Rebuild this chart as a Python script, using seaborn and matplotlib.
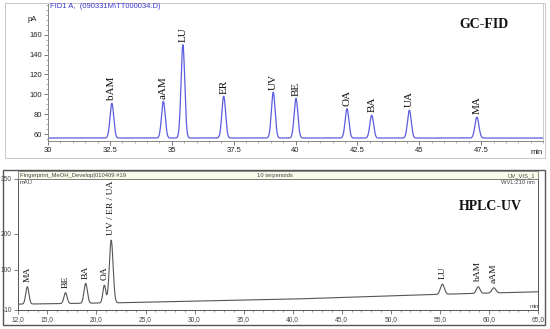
import numpy as np
import matplotlib
matplotlib.use("Agg")
import matplotlib.pyplot as plt
import seaborn as sns
from matplotlib.patches import Rectangle
from matplotlib.ticker import MultipleLocator

# GC-FID peaks (retention time in min, apex in pA)
gc_names = ["bAM", "aAM", "LU", "ER", "UV", "BE", "OA", "BA", "UA", "MA"]
gc_rt = [32.58, 34.66, 35.45, 37.10, 39.10, 40.02, 42.08, 43.08, 44.60, 47.33]
gc_apex = [91, 93, 150, 98, 102, 96, 85.5, 79, 84, 77]
gc_width = [0.075, 0.075, 0.075, 0.075, 0.075, 0.075, 0.075, 0.075, 0.075, 0.08]
gc_base = 56
gc_xticks = [30, 32.5, 35, 37.5, 40, 42.5, 45, 47.5]
gc_xlabels = ["30", "32.5", "35", "37.5", "40", "42.5", "45", "47.5"]
gc_yticks = [60, 80, 100, 120, 140, 160]

# HPLC-UV peaks (retention time in min, apex in mAU)
lc_names = ["MA", "BE", "BA", "OA", "UV / ER / UA", "LU", "bAM", "aAM"]
lc_rt = [12.95, 16.84, 18.90, 20.80, 21.50, 55.25, 58.90, 60.50]
lc_apex = [54, 37.5, 63, 58, 182, 61, 54, 51]
lc_width = [0.16, 0.16, 0.17, 0.15, 0.19, 0.2, 0.18, 0.2]
lc_base_t = [12, 22.5, 40, 55, 65]
lc_base_v = [6, 10, 20, 33, 40]
lc_xticks = [12, 15, 20, 25, 30, 35, 40, 45, 50, 55, 60, 65]
lc_xlabels = ["12,0", "15,0", "20,0", "25,0", "30,0", "35,0", "40,0",
              "45,0", "50,0", "55,0", "60,0", "65,0"]
lc_yticks = [-10, 100, 200, 350]

sns.set_style("white")
plt.rcParams["font.family"] = ["Liberation Sans", "DejaVu Sans"]
serif = "Liberation Serif"

fig = plt.figure(figsize=(5.5, 3.29), dpi=100)

# ---- top: GC-FID
t1 = np.linspace(30, 50, 4001)
y1 = np.full_like(t1, gc_base, dtype=float)
for rt, ap, w in zip(gc_rt, gc_apex, gc_width):
    y1 += (ap - gc_base) * np.exp(-0.5 * ((t1 - rt) / w) ** 2)

ax1 = fig.add_axes([48 / 550, 1 - 141 / 329, 495 / 550, 138 / 329])
sns.lineplot(x=t1, y=y1, ax=ax1, color="#5c5ce0", linewidth=0.9)
ax1.set_xlim(30, 50)
ax1.set_ylim(53, 192)
ax1.set_xticks(gc_xticks)
ax1.set_xticklabels(gc_xlabels)
ax1.set_yticks(gc_yticks)
ax1.xaxis.set_minor_locator(MultipleLocator(0.5))
ax1.yaxis.set_minor_locator(MultipleLocator(5))
ax1.tick_params(which="major", direction="out", length=3, width=0.6,
                labelsize=5.5, colors="#666", labelcolor="#222", pad=1.5,
                left=True, bottom=True)
ax1.tick_params(which="minor", direction="out", length=1.5, width=0.5,
                colors="#888", left=True, bottom=True)
for s in ["left", "bottom"]:
    ax1.spines[s].set_color("#888")
    ax1.spines[s].set_linewidth(0.7)
for s in ["top", "right"]:
    ax1.spines[s].set_color("#ccc")
    ax1.spines[s].set_linewidth(0.7)
ax1.set_xlabel("")
ax1.set_ylabel("")
for name, rt, ap in zip(gc_names, gc_rt, gc_apex):
    ax1.annotate(name, (rt, ap), xytext=(0, 2), textcoords="offset points",
                 rotation=90, ha="center", va="bottom", fontsize=8,
                 family=serif, color="#111")
ax1.text(-0.022, 175, "pA", transform=ax1.get_yaxis_transform(),
         ha="right", va="center", fontsize=5.5, color="#222")

fig.text(50 / 550, 1 - 6 / 329, "FID1 A,  (090331M\\TT000034.D)",
         ha="left", va="center", fontsize=5.5, color="#3a3ad0")
fig.text(537 / 550, 1 - 153 / 329, "min", ha="center", va="center",
         fontsize=5.5, color="#222")
fig.text(484 / 550, 1 - 25 / 329, "GC-FID", ha="center", va="center",
         fontsize=10, fontweight="bold", family=serif, color="#111")
fig.patches.append(Rectangle((5 / 550, 1 - 158 / 329), 540 / 550, 155 / 329,
                             transform=fig.transFigure, fill=False,
                             edgecolor="#c8c8c8", linewidth=0.7))

# ---- bottom: HPLC-UV
t2 = np.linspace(12, 65, 5301)
y2 = np.interp(t2, lc_base_t, lc_base_v)
for rt, ap, w in zip(lc_rt, lc_apex, lc_width):
    b = np.interp(rt, lc_base_t, lc_base_v)
    y2 += (ap - b) * np.exp(-0.5 * ((t2 - rt) / w) ** 2)

fig.patches.append(Rectangle((3 / 550, 1 - 325 / 329), 542 / 550, 155 / 329,
                             transform=fig.transFigure, fill=False,
                             edgecolor="#555", linewidth=1.0))
fig.patches.append(Rectangle((18 / 550, 1 - 179 / 329), 520 / 550, 8 / 329,
                             transform=fig.transFigure, facecolor="#fbfbec",
                             edgecolor="#777", linewidth=0.6))

ax2 = fig.add_axes([18 / 550, 1 - 310 / 329, 520 / 550, 131 / 329])
sns.lineplot(x=t2, y=y2, ax=ax2, color="#555", linewidth=0.8)
ax2.set_xlim(12, 65)
ax2.set_ylim(-10, 350)
ax2.set_xticks(lc_xticks)
ax2.set_xticklabels(lc_xlabels)
ax2.set_yticks(lc_yticks)
ax2.set_yticklabels([str(v) for v in lc_yticks])
ax2.xaxis.set_minor_locator(MultipleLocator(1))
ax2.tick_params(which="major", direction="out", length=3, width=0.6,
                labelsize=4.8, colors="#666", labelcolor="#444", pad=1.5,
                left=True, bottom=True)
ax2.tick_params(which="minor", direction="out", length=1.5, width=0.5,
                colors="#777", bottom=True)
for s in ax2.spines.values():
    s.set_color("#555")
    s.set_linewidth(0.7)
ax2.set_xlabel("")
ax2.set_ylabel("")
for name, rt, ap in zip(lc_names, lc_rt, lc_apex):
    ax2.annotate(name, (rt, ap), xytext=(0, 3.5), textcoords="offset points",
                 rotation=90, ha="center", va="bottom", fontsize=6.8,
                 family=serif, color="#111")

fig.text(20 / 550, 1 - 175.5 / 329, "Fingerprint_MeOH_Develop|010409 #19",
         ha="left", va="center", fontsize=4.2, color="#444")
fig.text(275 / 550, 1 - 175.5 / 329, "10 terpenoids", ha="center",
         va="center", fontsize=4.2, color="#444")
fig.text(535 / 550, 1 - 175.5 / 329, "UV_VIS_1", ha="right", va="center",
         fontsize=4.2, color="#444")
fig.text(535 / 550, 1 - 182.5 / 329, "WVL:210 nm", ha="right", va="center",
         fontsize=4.2, color="#444")
fig.text(20 / 550, 1 - 182.5 / 329, "mAU", ha="left", va="center",
         fontsize=4.2, color="#444")
fig.text(534 / 550, 1 - 306 / 329, "min", ha="center", va="center",
         fontsize=4.2, color="#444")
fig.text(490 / 550, 1 - 206 / 329, "HPLC-UV", ha="center", va="center",
         fontsize=10, fontweight="bold", family=serif, color="#111")

fig.savefig("out.png", dpi=100)
